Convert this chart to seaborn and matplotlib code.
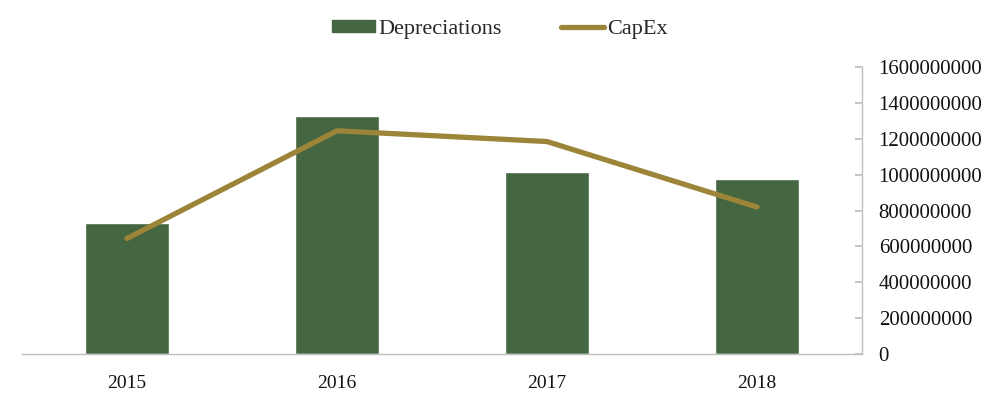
import matplotlib
matplotlib.use("Agg")
import matplotlib.pyplot as plt
import pandas as pd
import seaborn as sns
from matplotlib.patches import Patch
from matplotlib.lines import Line2D

YEARS = ["2015", "2016", "2017", "2018"]
DEPRECIATIONS = [730_000_000, 1_330_000_000, 1_015_000_000, 975_000_000]
CAPEX = [645_000_000, 1_245_000_000, 1_185_000_000, 820_000_000]

BAR_COLOR = "#446640"
LINE_COLOR = "#9C8538"

sns.set_theme(style="white")
plt.rcParams["font.family"] = ["Liberation Serif", "DejaVu Serif"]

df = pd.DataFrame({"year": YEARS, "depreciations": DEPRECIATIONS, "capex": CAPEX})

fig = plt.figure(figsize=(10, 3.97), dpi=100)
ax = fig.add_axes([0.022, 0.108, 0.840, 0.723])

sns.barplot(df, x="year", y="depreciations", color=BAR_COLOR, width=0.4,
            saturation=1, ax=ax)
sns.pointplot(df, x="year", y="capex", color=LINE_COLOR, markers="",
              linewidth=3.8, ax=ax)
for line in ax.lines:
    line.set_solid_capstyle("round")
    line.set_solid_joinstyle("round")

ax.set_ylim(0, 1_600_000_000)
ax.set_yticks(range(0, 1_600_000_001, 200_000_000))
ax.set_yticklabels([f"{v}" for v in range(0, 1_600_000_001, 200_000_000)])
ax.yaxis.tick_right()
ax.set_xlabel("")
ax.set_ylabel("")

for side in ["left", "top"]:
    ax.spines[side].set_visible(False)
for side in ["right", "bottom"]:
    ax.spines[side].set_color("#BFBFBF")
    ax.spines[side].set_linewidth(1)

ax.tick_params(axis="y", which="both", left=False, right=True, direction="in",
               length=5, color="#BFBFBF", labelsize=15, pad=12, labelcolor="#111111")
ax.tick_params(axis="x", bottom=False, labelsize=14, pad=9, labelcolor="#111111")

handles = [
    Patch(facecolor=BAR_COLOR, edgecolor=BAR_COLOR),
    Line2D([0], [0], color=LINE_COLOR, linewidth=3.8, solid_capstyle="round"),
]
fig.legend(handles, ["Depreciations", "CapEx"], loc="center",
           bbox_to_anchor=(0.5, 0.925), ncol=2, frameon=False, fontsize=16,
           handlelength=1.9, handleheight=0.45, handletextpad=0.15, columnspacing=2.7)

fig.savefig("out.png", dpi=100)
